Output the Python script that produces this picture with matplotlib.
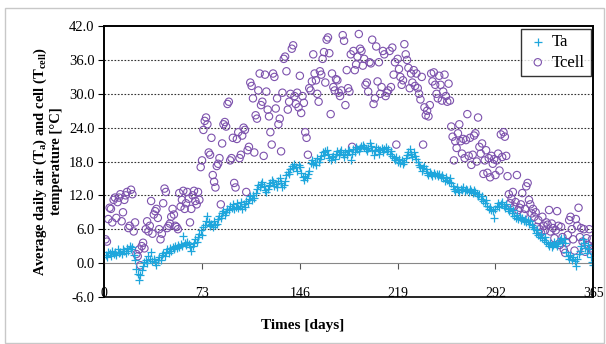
import numpy as np
import matplotlib
matplotlib.use('Agg')
import matplotlib.pyplot as plt
from matplotlib.patches import Rectangle

# daily mean air temperature Ta (days 1..365)
ta = [
    1.5, 1.0, 2.0, 1.8, 1.2, 2.2, 1.6, 2.0, 1.4, 2.4,
    1.8, 2.0, 1.6, 2.5, 2.2, 1.8, 2.6, 2.2, 3.0, 2.4,
    2.8, 1.5, 0.5, -1.0, -2.0, -3.0, -2.2, -1.2, -0.5, 0.2,
    0.6, 0.0, 1.2, 0.8, 2.0, 0.4, 0.8, 0.2, -0.3, 0.5,
    1.0, 0.6, 1.4, 1.8, 1.2, 2.0, 2.4, 1.8, 2.6, 2.2,
    2.8, 2.4, 3.0, 2.6, 3.2, 2.8, 3.4, 3.0, 4.8, 3.6,
    3.2, 3.8, 3.4, 2.8, 2.2, 3.0, 3.6, 4.2, 3.8, 4.6,
    5.2, 5.8, 5.0, 6.4, 6.8, 7.4, 8.4, 7.2, 6.6, 7.0,
    6.4, 7.4, 6.8, 7.0, 7.8, 8.4, 8.0, 8.8, 9.2, 8.6,
    9.0, 9.6, 9.4, 10.2, 9.8, 10.4, 9.6, 10.0, 10.6, 9.8,
    10.2, 10.8, 9.6, 10.4, 10.0, 11.0, 10.6, 11.4, 11.8, 11.2,
    12.0, 11.6, 12.4, 13.2, 13.8, 13.4, 14.0, 14.4, 13.6, 13.0,
    12.6, 13.2, 13.8, 14.2, 14.8, 14.4, 13.6, 14.0, 13.4, 14.6,
    15.0, 14.2, 13.4, 13.8, 14.6, 15.6, 16.2, 15.8, 16.6, 17.2,
    16.8, 17.6, 17.0, 16.4, 17.4, 17.0, 16.0, 15.2, 14.8, 15.4,
    15.0, 15.8, 16.4, 17.8, 18.2, 17.6, 18.0, 17.4, 18.6, 18.0,
    18.4, 19.0, 19.6, 19.2, 19.8, 20.0, 19.4, 18.6, 18.2, 18.8,
    19.0, 18.4, 19.4, 19.8, 19.2, 19.6, 20.0, 19.4, 18.8, 19.6,
    19.2, 19.8, 20.0, 18.2, 19.4, 20.2, 19.6, 20.6, 20.2, 19.8,
    20.4, 20.8, 21.0, 20.6, 20.2, 19.8, 20.4, 21.2, 20.8, 20.0,
    19.2, 19.8, 20.6, 20.2, 19.4, 20.0, 20.4, 19.6, 20.2, 20.6,
    19.8, 20.2, 19.4, 19.8, 19.0, 18.6, 18.2, 18.8, 18.0, 18.4,
    17.8, 18.2, 17.6, 18.0, 18.6, 19.2, 19.6, 20.2, 19.4, 18.8,
    19.6, 19.0, 18.4, 18.0, 17.4, 17.0, 16.4, 16.8, 17.2, 16.6,
    16.0, 15.6, 16.2, 15.8, 15.4, 16.0, 15.6, 15.8, 15.4, 15.8,
    15.2, 15.6, 15.0, 14.6, 15.2, 14.8, 14.4, 15.0, 14.2, 13.6,
    13.2, 12.8, 13.4, 13.0, 12.6, 13.2, 13.0, 13.4, 12.8, 13.2,
    13.0, 12.6, 13.2, 12.8, 12.4, 13.0, 12.6, 12.2, 11.8, 12.2,
    11.4, 11.8, 11.0, 10.6, 11.2, 10.2, 9.6, 10.0, 9.4, 9.2,
    8.0, 9.6, 10.2, 10.6, 10.0, 10.4, 10.8, 10.2, 9.8, 10.4,
    9.6, 9.2, 9.8, 8.8, 9.4, 8.4, 8.0, 8.6, 7.8, 8.2,
    7.6, 8.0, 7.4, 7.8, 7.2, 7.6, 7.0, 7.4, 6.8, 6.4,
    6.0, 5.4, 5.8, 5.0, 4.6, 5.2, 4.4, 4.0, 4.6, 3.8,
    3.4, 3.0, 3.6, 2.8, 3.2, 3.8, 3.4, 3.0, 3.6, 4.0,
    4.4, 3.8, 4.2, 3.6, 2.0, 1.2, 0.8, 1.4, 0.6, 1.0,
    0.4, -0.5, 0.8, 1.6, 2.2, 3.0, 4.2, 3.6, 2.6, 1.8,
    3.2, 2.4, 1.0, 0.2, -0.4,
]

# daily mean cell temperature Tcell (days 1..365)
tcell = [
    4.2, 3.8, 7.8, 9.8, 9.6, 7.2, 11.2, 11.6, 8.0, 10.8,
    11.6, 12.2, 7.4, 9.0, 11.2, 12.0, 12.6, 6.2, 6.6, 13.0,
    12.2, 5.6, 7.2, 1.6, 1.2, 2.4, -0.4, 3.0, 3.6, 2.6,
    6.0, 7.4, 5.6, 6.6, 11.0, 5.2, 8.6, 9.2, 9.6, 8.0,
    6.0, 4.2, 5.2, 10.6, 13.2, 12.6, 6.2, 6.6, 7.0, 8.2,
    9.6, 8.6, 6.6, 6.4, 6.0, 12.4, 10.0, 11.2, 12.8, 9.6,
    10.6, 12.6, 11.4, 7.2, 9.6, 12.0, 12.8, 11.0, 10.4, 12.6,
    11.2, 17.0, 18.2, 23.6, 25.2, 25.8, 24.6, 19.6, 19.2, 22.2,
    15.6, 14.4, 13.4, 17.2, 17.6, 18.6, 10.4, 21.2, 24.6, 25.0,
    24.2, 28.2, 28.6, 18.2, 18.6, 22.2, 14.2, 13.4, 22.0, 23.2,
    18.6, 19.2, 22.6, 24.0, 23.6, 12.6, 20.0, 20.6, 32.0, 31.4,
    29.2, 19.6, 26.2, 25.6, 30.6, 33.6, 28.0, 28.6, 19.0, 33.4,
    30.4, 27.2, 26.0, 23.2, 21.0, 33.6, 33.0, 27.4, 29.2, 24.6,
    25.6, 19.8, 30.2, 36.2, 36.6, 34.0, 27.2, 28.6, 30.0, 38.0,
    38.6, 29.6, 28.2, 30.2, 27.6, 33.2, 26.6, 29.6, 28.4, 23.2,
    22.2, 19.2, 31.0, 30.6, 32.2, 37.0, 33.6, 32.4, 30.0, 28.6,
    34.0, 33.4, 36.2, 37.4, 32.0, 39.6, 40.0, 37.2, 26.4, 33.6,
    31.2, 30.6, 32.6, 32.4, 30.2, 29.6, 30.6, 40.4, 39.4, 28.0,
    34.2, 31.0, 30.4, 37.0, 20.6, 37.6, 34.2, 35.2, 36.6, 40.6,
    38.0, 37.6, 35.0, 36.2, 31.6, 32.0, 30.4, 35.6, 35.4, 39.6,
    28.2, 29.2, 38.4, 32.2, 35.6, 30.0, 31.2, 37.6, 37.0, 29.6,
    30.2, 30.6, 37.6, 31.2, 38.2, 33.4, 35.6, 21.0, 36.2, 34.4,
    33.0, 31.6, 32.4, 38.8, 37.0, 36.0, 34.6, 31.0, 33.6, 32.0,
    34.2, 31.4, 33.6, 31.0, 30.0, 29.0, 33.0, 21.0, 27.6, 26.2,
    27.0, 26.0, 28.0, 33.6, 32.2, 33.8, 31.6, 30.0, 29.2, 33.2,
    31.6, 28.8, 30.4, 33.4, 29.6, 28.6, 31.8, 28.8, 24.2, 22.4,
    18.2, 21.6, 20.4, 23.0, 24.6, 21.6, 19.4, 22.0, 18.6, 21.8,
    26.4, 19.0, 22.2, 17.4, 19.2, 22.6, 23.0, 18.0, 25.8, 20.6,
    19.4, 21.2, 15.8, 18.2, 20.0, 16.0, 18.6, 15.2, 19.0, 17.6,
    18.4, 15.6, 18.2, 19.4, 16.4, 22.8, 18.8, 23.2, 22.4, 19.0,
    15.4, 12.2, 10.6, 11.4, 12.6, 10.0, 10.8, 15.6, 9.4, 9.8,
    10.4, 12.4, 8.6, 9.6, 13.6, 14.2, 11.2, 10.4, 8.8, 9.6,
    8.2, 9.0, 6.4, 7.6, 6.0, 5.4, 8.2, 6.6, 5.8, 7.2,
    6.8, 9.4, 5.6, 7.0, 6.2, 4.4, 5.8, 9.2, 6.6, 3.2,
    6.4, 4.6, 2.4, 1.8, 3.6, 5.0, 7.6, 8.2, 6.0, 4.2,
    2.2, 7.8, 6.6, 9.8, 4.6, 6.2, 3.8, 6.0, 2.0, 4.4,
    3.2, 6.0, 2.6, 4.2, 2.0,
]

days = np.arange(1, len(ta) + 1)
xticks = [0, 73, 146, 219, 292, 365]
yticks = [-6, 0, 6, 12, 18, 24, 30, 36, 42]

plt.rcParams['font.family'] = ['Liberation Serif', 'DejaVu Serif']
plt.rcParams['mathtext.default'] = 'regular'

fig = plt.figure(figsize=(6.06, 3.44), dpi=100)
fig.patches.append(Rectangle((0.008, 0.003), 0.988, 0.974, transform=fig.transFigure,
                             fill=False, edgecolor='#c8c8c8', lw=1.0))
ax = fig.add_axes([0.172, 0.137, 0.807, 0.787])

ax.scatter(days, tcell, s=28, facecolors='none', edgecolors='#7d52ad', linewidths=0.8,
           label='Tcell', zorder=3)
ax.scatter(days, ta, s=30, marker='+', color='#1ea6dc', linewidths=0.9,
           label='Ta', zorder=4)

ax.set_xlim(0, 365)
ax.set_ylim(-6, 42)
ax.set_xticks(xticks)
ax.set_yticks(yticks)
ax.set_yticklabels(['%.1f' % v for v in yticks], fontsize=10.5)
ax.set_xticklabels([str(v) for v in xticks], fontsize=10.5)

for v in yticks[2:-1]:
    ax.axhline(v, color='#333333', ls=(0, (1.5, 1.5)), lw=0.8, zorder=1)

# x axis crosses at 0, labels stay low
ax.spines['bottom'].set_position(('data', 0))
ax.spines['bottom'].set_color('#888888')
ax.spines['bottom'].set_linewidth(0.8)
ax.tick_params(axis='x', direction='out', length=4, color='#555555', pad=13)
ax.tick_params(axis='y', direction='out', length=4, pad=3)
for s in ['top', 'left', 'right']:
    ax.spines[s].set_linewidth(1.2)
ax.add_patch(Rectangle((0, 0), 1, 1, transform=ax.transAxes, fill=False,
                       edgecolor='black', lw=1.2, clip_on=False, zorder=5))

ax.set_ylabel('Average daily air (T$_a$) and cell (T$_{cell}$)\ntemperature [\u00b0C]',
              fontsize=10.5, fontweight='bold', labelpad=4, linespacing=1.1)
fig.text(0.5, 0.045, 'Times [days]', fontsize=11, fontweight='bold', ha='center')

h, l = ax.get_legend_handles_labels()
leg = ax.legend(h[::-1], l[::-1], loc='upper right', fontsize=12, frameon=True,
                fancybox=False, edgecolor='black', borderaxespad=0.15,
                handletextpad=0.2, handlelength=1.3, borderpad=0.35, labelspacing=0.25)
leg.get_frame().set_linewidth(1.0)

fig.savefig('out.png', dpi=100)
